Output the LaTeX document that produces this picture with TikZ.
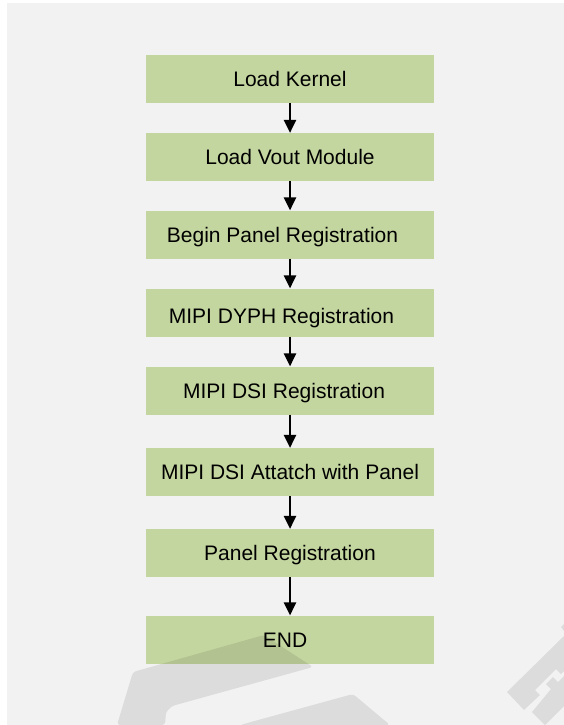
\documentclass[tikz,border=0pt]{standalone}
\usepackage{fontspec}
\setmainfont{Liberation Sans}
\usetikzlibrary{arrows.meta}
\definecolor{boxgreen}{HTML}{C4D6A0}
\definecolor{pagegray}{HTML}{F2F2F2}

\begin{document}
\begin{tikzpicture}[x=1pt,y=-1pt,
    stepbox/.style={fill=boxgreen,minimum width=288pt,minimum height=48pt,
      inner sep=0pt,text height=15pt,text depth=0pt,
      font=\fontsize{21}{25}\selectfont},
    flow/.style={-{Triangle[width=12.5pt,length=13pt]},line width=1.5pt},
    wmark/.style={fill=black,fill opacity=0.09}]
  \useasboundingbox (0,0) rectangle (564,725);
  \fill[pagegray] (7,3) rectangle (564,725);

  \node[stepbox] (kernel) at (290,79) {Load Kernel};
  \node[stepbox] (vout) at (290,157) {Load Vout Module};
  \node[stepbox] (beginreg) at (290,234.5) {Begin Panel Registration\hspace*{15pt}};
  \node[stepbox] (dyph) at (290,312.5)
    {\raisebox{-3.5pt}{MIPI DYPH Registration}\hspace*{17pt}};
  \node[stepbox] (dsi) at (290,390.5) {MIPI DSI Registration\hspace*{12pt}};
  \node[stepbox] (attach) at (290,472) {MIPI DSI Attatch with Panel};
  \node[stepbox] (panelreg) at (290,553) {Panel Registration};
  \node[stepbox] (end) at (290,639.5) {END\hspace*{10pt}};

  \draw[flow] (kernel) -- (vout);
  \draw[flow] (vout) -- (beginreg);
  \draw[flow] (beginreg) -- (dyph);
  \draw[flow] (dyph) -- (dsi);
  \draw[flow] (dsi) -- (attach);
  \draw[flow] (attach) -- (panelreg);
  \draw[flow] (panelreg) -- (end);

  % watermark
  \fill[wmark,rounded corners=3pt] (133,672) -- (264,635) -- (313,667)
    -- (172,706) -- (166,712) -- (165,725) -- (117,725) -- cycle;
  \fill[wmark,rounded corners=3pt] (240,725) -- (353,694) -- (390,725) -- cycle;
  \fill[wmark] (564,636) -- (507,692) -- (524,710) -- (540,695) -- (535,690)
    -- (556,669) -- (561,674) -- (564,671) -- cycle;
  \fill[wmark] (532,712) -- (545,725) -- (564,706) -- (564,676) -- (558,682)
    -- (553,677) -- (546,684) -- (551,689) -- cycle;
  \fill[wmark] (561,627) -- (564,624) -- (564,631) -- cycle;
\end{tikzpicture}
\end{document}
